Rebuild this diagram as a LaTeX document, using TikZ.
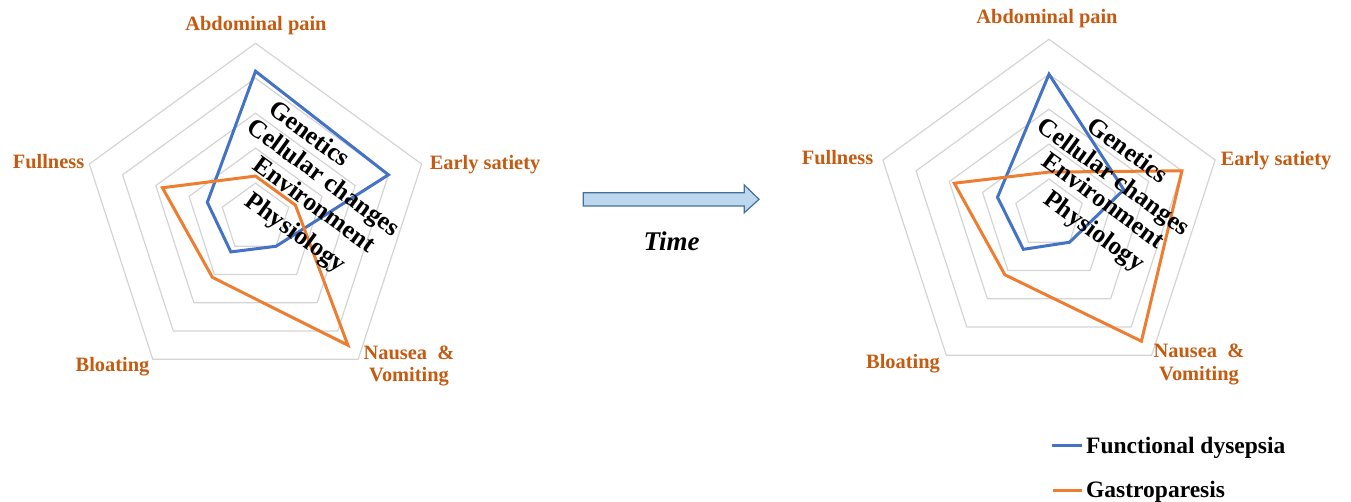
\documentclass[tikz,border=0pt]{standalone}
\usepackage{fontspec}
\setmainfont{Liberation Serif}
\usetikzlibrary{calc}
\definecolor{fdblue}{HTML}{4472C4}
\definecolor{gporange}{HTML}{ED7D31}
\definecolor{lblorange}{HTML}{C55A11}
\definecolor{gridgray}{HTML}{D4D4D4}
\definecolor{arrowfill}{HTML}{BDD7EE}
\definecolor{arrowdraw}{HTML}{41719C}
\newcommand{\rad}{174.7}
% #1 centre, #2 style, #3..#7 values: abdominal pain, early satiety, nausea, bloating, fullness
\newcommand{\radarpoly}[7]{%
  \draw[#2] ($(#1)+(-90:#3*\rad)$) -- ($(#1)+(-18:#4*\rad)$) -- ($(#1)+(54:#5*\rad)$)
    -- ($(#1)+(126:#6*\rad)$) -- ($(#1)+(198:#7*\rad)$) -- cycle;}
\newcommand{\radargrid}[1]{%
  \foreach \f in {0.2,0.4,0.6,0.8,1}{%
    \radarpoly{#1}{gridline}{\f}{\f}{\f}{\f}{\f}}}
\tikzset{
  gridline/.style={draw=gridgray, line width=1.2pt},
  fdline/.style={draw=fdblue, line width=3pt, line join=miter},
  gpline/.style={draw=gporange, line width=3pt, line join=miter},
  axislabel/.style={text=lblorange, font=\fontsize{20.4}{22.4}\selectfont\bfseries, inner sep=0pt},
  factor/.style={font=\fontsize{25.5}{28}\selectfont\bfseries, rotate=-36, inner sep=0pt},
  legendtext/.style={font=\fontsize{23.5}{26}\selectfont\bfseries, inner sep=0pt, anchor=base west},
  timearrow/.style={draw=arrowdraw, fill=arrowfill, line width=1.2pt}
}
\begin{document}
\begin{tikzpicture}[x=1pt,y=-1pt]
\useasboundingbox (0,0) rectangle (1351,502);
\coordinate (L) at (255.5,218);
\coordinate (R) at (1049,214);

% grids
\radargrid{L}
\radargrid{R}

% data
\radarpoly{L}{fdline}{0.84}{0.80}{0.20}{0.24}{0.29}
\radarpoly{L}{gpline}{0.24}{0.24}{0.90}{0.42}{0.56}
\radarpoly{R}{fdline}{0.80}{0.45}{0.20}{0.25}{0.31}
\radarpoly{R}{gpline}{0.24}{0.80}{0.90}{0.43}{0.57}

% axis labels left
\node[axislabel, anchor=base] (apL) at (256,31) {Abdominal pain};
\node[axislabel, anchor=base] (esL) at (485,169.3) {Early satiety};
\node[axislabel, anchor=base] (fuL) at (48.5,169) {Fullness};
\node[axislabel, anchor=base] (blL) at (112.5,371) {Bloating};
\node[axislabel, anchor=base, align=center] (nvL) at (409,381.7) {Nausea~ \&\\Vomiting};
% axis labels right
\node[axislabel, anchor=base] (apR) at (1047,23.3) {Abdominal pain};
\node[axislabel, anchor=base] (esR) at (1276,165.7) {Early satiety};
\node[axislabel, anchor=base] (fuR) at (837.5,165) {Fullness};
\node[axislabel, anchor=base] (blR) at (903,368.3) {Bloating};
\node[axislabel, anchor=base, align=center] (nvR) at (1199,380) {Nausea~ \&\\Vomiting};

% factors left
\node[factor] (genL) at (310,133.3) {Genetics};
\node[factor] (celL) at (322.5,179) {Cellular changes};
\node[factor] (envL) at (315,204) {Environment};
\node[factor] (phyL) at (295,234) {Physiology};
% factors right
\node[factor] (genR) at (1128.3,150) {Genetics};
\node[factor] (celR) at (1112.5,178.3) {Cellular changes};
\node[factor] (envR) at (1104,200) {Environment};
\node[factor] (phyR) at (1093.3,232.5) {Physiology};

% time arrow
\draw[timearrow] (583.3,192.7) -- (744.3,192.7) -- (744.3,185) -- (759,199.3)
  -- (744.3,212.7) -- (744.3,206) -- (583.3,206) -- cycle;
\node[font=\fontsize{27}{30}\selectfont\bfseries\itshape, inner sep=0pt] (time) at (671.7,241.7) {Time};

% legend
\coordinate (lg1a) at (1051.7,445);
\coordinate (lg1b) at (1081.7,445);
\coordinate (lg2a) at (1053,490);
\coordinate (lg2b) at (1081.7,490);
\draw[fdline] (lg1a) -- (lg1b);
\draw[gpline] (lg2a) -- (lg2b);
\node[legendtext] (lgfd) at (1086,453.3) {Functional dysepsia};
\node[legendtext] (lggp) at (1086,497) {Gastroparesis};
\end{tikzpicture}
\end{document}
